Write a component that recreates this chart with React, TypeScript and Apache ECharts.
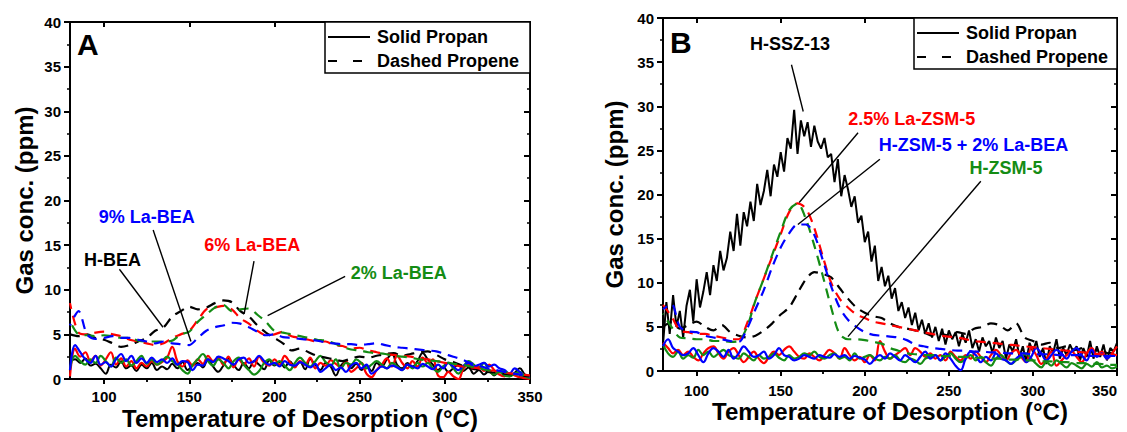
import React, { useEffect, useRef } from "react";
import * as echarts from "echarts";

const FONT = "'Liberation Sans', Arial, sans-serif";
const BLACK = "#000000";
const RED = "#ff0000";
const GREEN = "#148c14";
const BLUE = "#0000ff";

// Temperature sampling grids (°C)
function tempGrid(step: number): number[] {
  const a: number[] = [];
  for (let t = 80; t <= 350 + 1e-9; t += step) a.push(t);
  return a;
}
const T5 = tempGrid(5);
const T3 = tempGrid(3);
const T2 = tempGrid(2);

const xMajorTicks = [100, 150, 200, 250, 300, 350];
const xMinorTicks = [125, 175, 225, 275, 325];

// ---------- Panel A (BEA series) ----------
// Dashed = propene, step 5 °C
const aHBEAPropene = [
  5.0, 4.8, 5.0, 4.6, 4.4, 4.0, 3.6, 3.8, 4.2, 4.6,
  5.4, 5.8, 7.0, 7.6, 8.1, 7.8, 8.0, 8.5, 8.8, 8.6,
  7.6, 7.0, 6.0, 5.2, 4.6, 4.0, 3.2, 3.4, 3.0, 2.6,
  2.4, 2.2, 2.0, 2.3, 2.5, 2.4, 2.6, 2.8, 2.9, 2.6,
  2.8, 3.0, 3.1, 2.7, 2.2, 1.9, 1.5, 1.2, 1.0, 0.8,
  0.7, 0.6, 0.5, 0.4, 0.3,
];
const a6LaPropene = [
  8.5, 5.2, 5.0, 5.2, 5.3, 5.0, 4.8, 4.4, 4.2, 4.0,
  3.8, 4.0, 4.6, 5.0, 5.4, 6.6, 7.8, 8.0, 8.2, 7.8,
  6.8, 6.2, 5.4, 4.9, 5.0, 5.3, 4.8, 4.6, 4.4, 4.2,
  4.2, 3.8, 3.7, 3.4, 3.5, 3.2, 3.0, 2.8, 2.7, 2.6,
  2.5, 2.3, 2.2, 2.0, 1.8, 1.6, 1.4, 1.3, 1.2, 1.0,
  0.9, 0.7, 0.6, 0.5, 0.4,
];
const a2LaPropene = [
  6.5, 5.0, 4.9, 4.8, 4.9, 4.8, 4.6, 4.6, 4.3, 4.2,
  4.2, 4.2, 4.3, 5.0, 5.3, 6.4, 7.2, 8.0, 8.3, 7.6,
  7.8, 7.9, 7.2, 6.4, 5.4, 5.2, 5.0, 4.8, 4.6, 4.4,
  4.3, 4.0, 3.6, 3.3, 3.2, 3.0, 2.9, 2.8, 2.6, 2.5,
  2.4, 2.2, 2.1, 2.0, 1.9, 1.7, 1.6, 1.4, 1.2, 1.0,
  0.9, 0.8, 0.6, 0.5, 0.4,
];
const a9LaPropene = [
  6.0, 7.6, 5.0, 4.5, 4.6, 4.8, 4.6, 4.6, 4.4, 4.2,
  4.0, 4.2, 4.0, 3.9, 3.8, 4.6, 5.4, 5.8, 6.0, 6.3,
  6.2, 5.8, 5.3, 4.9, 5.0, 4.7, 4.6, 4.5, 4.4, 4.3,
  4.1, 4.0, 3.9, 3.9, 3.8, 3.9, 4.0, 3.8, 3.6, 3.5,
  3.4, 3.3, 3.2, 3.1, 2.8, 2.5, 2.2, 1.8, 1.5, 1.2,
  1.0, 0.8, 0.6, 0.5, 0.4,
];
// Solid = propane, step 3 °C
const aHBEAPropane = [
  2.0, 2.2, 1.8, 2.3, 1.5, 1.7, 1.2, 0.6, 1.6, 1.3,
  2.0, 1.2, 1.5, 0.9, 1.6, 1.2, 1.8, 1.0, 1.4, 1.1,
  1.7, 1.2, 1.9, 1.0, 1.5, 1.8, 1.3, 2.2, 1.4, 0.8,
  1.5, 2.3, 1.6, 1.0, 1.8, 1.2, 2.0, 1.6, 1.1, 2.1,
  1.5, 1.9, 1.3, 2.0, 1.4, 1.9, 1.1, 2.2, 1.6, 1.0,
  1.8, 1.4, 0.4, 1.5, 1.9, 1.2, 1.7, 1.0, 1.5, 0.9,
  1.8, 1.4, 2.2, 2.8, 1.6, 1.2, 1.8, 1.4, 2.0, 2.9,
  2.2, 1.6, 1.0, 1.4, 0.8, 1.2, 1.6, 0.9, 1.3, 0.6,
  1.0, 0.5, 0.9, 0.4, 0.8, 0.5, 0.3, 0.7, 1.2, 0.5,
  0.2,
];
const a6LaPropane = [
  0.3, 3.4, 2.5, 3.0, 2.0, 2.6, 1.5, 2.2, 3.0, 1.6,
  2.3, 1.4, 2.0, 1.2, 1.8, 1.4, 2.0, 1.6, 1.9, 2.4,
  3.6, 2.0, 1.4, 2.1, 1.5, 2.2, 1.7, 2.6, 2.0, 2.4,
  1.6, 2.5, 1.3, 2.2, 1.6, 2.3, 1.4, 2.5, 1.8, 1.5,
  2.2, 1.6, 2.6, 1.9, 1.3, 2.0, 1.6, 2.4, 1.2, 1.8,
  1.5, 2.1, 1.7, 1.3, 2.0, 0.8, 1.2, 1.8, 0.6, 0.2,
  1.0, 1.6, 2.3, 1.4, 2.6, 1.8, 1.2, 2.0, 1.4, 2.4,
  1.8, 2.2, 0.4, 0.2, 0.8, 0.3, 0.0, 1.2, 1.6, 1.1,
  1.4, 0.9, 1.6, 1.0, 0.5, 0.3, 0.6, 0.4, 0.2, 0.1,
  0.0,
];
const a2LaPropane = [
  1.2, 2.6, 2.0, 1.6, 2.2, 1.8, 2.6, 2.0, 1.4, 2.4,
  1.8, 2.2, 1.5, 2.0, 2.6, 1.7, 2.2, 1.6, 2.0, 2.5,
  2.0, 1.6, 1.0, 0.6, 1.6, 2.2, 2.8, 2.0, 1.5, 2.2,
  1.8, 1.2, 2.0, 2.4, 1.6, 1.0, 0.5, 0.9, 1.8, 2.2,
  1.6, 2.0, 1.5, 1.0, 1.8, 2.4, 1.8, 1.4, 2.0, 2.6,
  1.9, 1.5, 2.2, 1.2, 1.8, 1.6, 2.2, 1.8, 1.2, 1.6,
  2.0, 1.6, 1.2, 1.8, 1.4, 1.0, 1.6, 1.2, 1.8, 1.4,
  1.8, 1.2, 0.8, 1.4, 1.8, 1.2, 0.6, 1.4, 2.0, 1.6,
  1.2, 1.8, 0.9, 0.5, 0.8, 0.4, 0.3, 0.6, 0.8, 0.3,
  0.1,
];
const a9LaPropane = [
  1.0, 3.8, 3.0, 2.2, 1.8, 2.6, 1.6, 1.9, 1.4, 2.2,
  2.8, 2.0, 2.6, 1.8, 2.3, 1.8, 2.4, 1.9, 2.2, 1.8,
  2.3, 1.6, 2.0, 1.9, 1.0, 1.6, 1.5, 2.2, 1.9, 2.5,
  2.3, 2.0, 1.6, 2.2, 2.4, 1.8, 2.0, 2.6, 2.0, 1.6,
  1.8, 1.4, 2.0, 1.6, 1.5, 1.9, 1.6, 1.3, 1.7, 0.8,
  1.2, 1.6, 1.0, 1.3, 0.8, 1.5, 1.8, 1.2, 1.6, 0.6,
  1.0, 1.4, 1.2, 1.5, 1.3, 1.0, 1.6, 1.4, 1.2, 1.7,
  1.4, 1.1, 1.6, 1.2, 1.8, 1.4, 1.0, 1.5, 1.8, 1.4,
  1.6, 1.8, 1.4, 1.6, 1.2, 1.0, 0.6, 1.2, 0.8, 0.4,
  0.3,
];

// ---------- Panel B (ZSM-5 / SSZ-13 series) ----------
// Dashed = propene, step 5 °C
const bSSZPropene = [
  5.0, 5.5, 4.8, 5.2, 5.6, 5.0, 4.6, 5.2, 4.4, 4.0,
  3.8, 4.0, 4.6, 5.4, 6.4, 7.2, 8.8, 10.4, 11.2, 11.0,
  10.6, 9.4, 8.2, 7.2, 6.6, 6.2, 6.0, 5.4, 5.0, 4.8,
  4.6, 4.4, 4.0, 4.2, 4.0, 4.4, 4.2, 4.8, 5.0, 5.4,
  5.2, 4.6, 5.4, 3.8, 3.4, 3.0, 3.2, 2.6, 2.8, 2.4,
  2.6, 2.2, 2.4, 2.0, 2.2,
];
const bLaZSMPropene = [
  7.5, 6.2, 4.6, 4.4, 4.2, 4.2, 4.0, 3.8, 3.6, 3.6,
  5.4, 8.0, 10.5, 13.0, 15.5, 18.0, 19.0, 18.4, 16.2, 13.0,
  10.0, 8.2, 7.2, 6.4, 6.0, 5.6, 5.4, 5.2, 5.0, 4.8,
  4.6, 4.4, 4.2, 4.0, 3.9, 3.8, 3.6, 3.4, 3.3, 3.2,
  3.1, 3.0, 2.9, 2.8, 2.7, 2.6, 2.5, 2.4, 2.3, 2.2,
  2.1, 2.0, 1.9, 1.9, 1.8,
];
const bHZSMPropene = [
  6.5, 5.0, 3.8, 3.7, 3.6, 3.6, 3.4, 3.4, 3.3, 3.4,
  5.0, 8.0, 10.5, 13.2, 15.8, 18.2, 19.0, 17.2, 14.2, 10.8,
  7.2, 4.2, 3.6, 3.6, 3.5, 3.3, 3.1, 2.6, 2.3, 2.0,
  1.9, 1.8, 1.8, 1.7, 1.7, 1.6, 1.6, 1.5, 1.5, 1.4,
  1.4, 1.3, 1.3, 1.2, 1.2, 1.1, 1.1, 1.0, 1.0, 0.9,
  0.9, 0.8, 0.8, 0.7, 0.7,
];
const bMixPropene = [
  7.0, 7.6, 5.0, 4.5, 4.4, 4.0, 3.8, 3.6, 3.4, 3.3,
  4.8, 7.0, 9.2, 11.8, 14.0, 15.6, 16.6, 16.6, 15.4, 12.6,
  9.6, 7.2, 5.8, 5.0, 4.4, 4.1, 4.0, 3.9, 3.8, 3.5,
  3.0, 2.8, 2.6, 2.5, 2.4, 2.3, 2.3, 2.2, 2.2, 2.1,
  2.1, 2.0, 2.0, 2.0, 1.9, 1.9, 1.9, 1.8, 1.8, 1.8,
  1.8, 1.7, 1.7, 1.7, 1.7,
];
// Solid = propane
const bSSZPropane = [ // step 2 °C
  3.0, 7.8, 4.2, 8.6, 5.0, 6.8, 3.8, 7.4, 9.2, 5.6,
  10.4, 7.2, 9.0, 11.2, 8.6, 12.0, 10.2, 13.6, 11.4, 12.8,
  15.8, 13.6, 17.8, 14.2, 18.0, 16.4, 19.2, 17.0, 21.2, 18.8,
  20.4, 22.8, 19.8, 23.4, 22.0, 24.8, 22.6, 26.4, 25.2, 29.6,
  24.6, 28.4, 26.6, 28.2, 25.4, 27.8, 26.0, 25.2, 26.4, 24.2,
  24.6, 21.4, 24.0, 19.8, 22.2, 20.6, 18.6, 19.8, 16.8, 17.6,
  14.6, 15.8, 12.4, 14.2, 10.2, 11.8, 9.6, 10.8, 8.2, 9.4,
  6.8, 7.8, 6.0, 7.2, 5.2, 6.6, 4.6, 5.8, 4.2, 5.4,
  3.8, 5.0, 3.4, 4.8, 3.0, 4.6, 3.6, 4.4, 2.8, 4.2,
  3.2, 4.6, 2.6, 3.6, 2.2, 3.8, 2.8, 3.4, 2.0, 3.8,
  2.6, 3.4, 1.4, 3.0, 2.2, 3.6, 1.6, 2.8, 1.0, 3.2,
  2.2, 3.4, 1.6, 2.6, 0.8, 2.8, 2.0, 3.6, 1.4, 2.6,
  1.8, 3.0, 2.2, 2.8, 1.2, 2.6, 1.6, 3.4, 1.4, 2.8,
  1.6, 3.0, 1.2, 2.6, 2.2, 3.2,
];
const bLaZSMPropane = [ // step 3 °C
  3.2, 2.6, 2.0, 2.4, 1.8, 2.2, 1.6, 1.2, 2.0, 2.6,
  2.8, 2.0, 1.4, 2.2, 2.6, 1.8, 1.0, 1.6, 2.2, 1.4,
  0.9, 1.6, 2.2, 1.8, 2.4, 2.8, 2.2, 1.6, 1.4, 2.0,
  1.6, 1.2, 1.8, 2.4, 2.0, 1.4, 2.6, 1.8, 1.2, 1.6,
  1.0, 1.8, 1.2, 3.4, 2.2, 1.4, 1.8, 2.2, 2.6, 1.8,
  2.6, 2.2, 1.6, 2.0, 1.4, 1.8, 1.2, 2.2, 1.6, 1.2,
  1.8, 1.4, 2.2, 1.6, 1.0, 1.8, 2.4, 1.8, 1.2, 2.0,
  2.4, 1.6, 1.0, 2.6, 1.8, 0.8, 1.4, 2.2, 0.6, 1.2,
  1.8, 2.2, 1.6, 1.0, 2.0, 2.6, 1.8, 2.2, 1.4, 2.0,
  2.8,
];
const bHZSMPropane = [ // step 3 °C
  3.0, 2.0, 1.6, 2.2, 1.4, 1.8, 1.5, 2.4, 1.8, 2.2,
  1.6, 2.0, 2.4, 1.8, 1.6, 1.4, 2.0, 1.6, 1.2, 1.8,
  1.4, 1.6, 2.0, 1.5, 1.2, 1.8, 1.4, 1.6, 2.0, 1.8,
  2.2, 1.6, 1.4, 1.8, 2.0, 1.4, 1.6, 1.2, 2.0, 1.4,
  1.6, 1.8, 1.4, 1.2, 1.6, 1.4, 1.8, 1.2, 1.0, 1.4,
  1.2, 0.8, 1.4, 1.6, 1.8, 1.2, 1.6, 2.0, 1.4, 1.0,
  1.4, 1.8, 1.2, 1.6, 1.0, 0.6, 1.4, 1.8, 1.2, 0.8,
  1.2, 1.6, 2.0, 1.4, 0.8, 0.4, 1.0, 0.6, 1.2, 0.8,
  0.4, 0.9, 0.6, 0.3, 0.8, 0.5, 1.0, 0.4, 0.6, 0.3,
  0.5,
];
const bMixPropane = [ // step 3 °C
  2.8, 3.6, 2.6, 2.2, 1.8, 2.0, 2.6, 1.8, 1.0, 2.0,
  2.6, 2.2, 1.6, 2.4, 1.4, 2.0, 2.8, 2.2, 1.6, 1.8,
  2.2, 1.4, 1.8, 2.6, 1.8, 1.6, 1.2, 1.4, 1.8, 1.6,
  1.4, 1.8, 1.6, 1.5, 1.9, 1.6, 1.8, 1.4, 1.7, 1.5,
  1.3, 0.8, 1.4, 1.8, 1.4, 2.0, 1.6, 1.2, 1.8, 1.4,
  1.0, 1.6, 2.2, 1.4, 1.8, 1.2, 2.0, 1.4, 0.6, 0.1,
  1.4, 2.2, 1.8, 1.0, 1.6, 1.2, 2.0, 1.4, 1.2, 0.8,
  1.4, 1.8, 1.0, 1.6, 2.6, 2.0, 1.2, 1.8, 2.4, 2.0,
  1.4, 2.2, 2.6, 1.8, 1.2, 2.4, 1.6, 2.0, 1.4, 1.8,
  1.8,
];

// Annotation labels and arrow endpoints (data units: [°C, ppm])
const annotationsA = [
  { text: "H-BEA", color: BLACK, at: [105, 13.3], from: [109, 12.3], to: [134.6, 5.8] },
  { text: "9% La-BEA", color: BLUE, at: [125, 18.2], from: [128.8, 16.7], to: [151, 4.2] },
  { text: "6% La-BEA", color: RED, at: [187, 15.0], from: [188, 13.2], to: [182.2, 7.3] },
  { text: "2% La-BEA", color: GREEN, at: [273, 11.9], from: [241.5, 11.5], to: [196, 7.1] },
];
const annotationsB = [
  { text: "H-SSZ-13", color: BLACK, at: [155.6, 37.0], from: [156.4, 34.7], to: [163.4, 29.4] },
  { text: "2.5% La-ZSM-5", color: RED, at: [228, 28.5], from: [196, 27.0], to: [161, 19.1] },
  { text: "H-ZSM-5 + 2% La-BEA", color: BLUE, at: [264.7, 25.6], from: [209, 24.0], to: [160.2, 16.6] },
  { text: "H-ZSM-5", color: GREEN, at: [284, 23.0], from: [269, 21.5], to: [190, 3.9] },
];

const legendSolid = "Solid Propan";
const legendDashed = "Dashed Propene";
const xTitle = "Temperature of Desorption (°C)";
const yTitle = "Gas conc. (ppm)";

function zip(xs: number[], ys: number[]): number[][] {
  const n = Math.min(xs.length, ys.length);
  const out: number[][] = [];
  for (let i = 0; i < n; i++) out.push([xs[i], ys[i]]);
  return out;
}

const GRIDS = [
  { left: 70, top: 22, width: 460, height: 357, xNameGap: 27, yNameGap: 34, xLabelMargin: 10, alignLast: "center" },
  { left: 663, top: 18, width: 454, height: 353, xNameGap: 28, yNameGap: 37, xLabelMargin: 12, alignLast: "right" },
];

function buildAxes() {
  const xAxis: any[] = [];
  const yAxis: any[] = [];
  const axisLine = { show: true, onZero: false, lineStyle: { color: "#000", width: 2 } };
  const labelStyle = { color: "#000", fontSize: 15, fontWeight: "bold", fontFamily: FONT };
  GRIDS.forEach((g, gi) => {
    xAxis.push({
      gridIndex: gi, type: "value", position: "bottom", min: 80, max: 350,
      axisLine, splitLine: { show: false },
      axisTick: { show: true, inside: false, length: 5, customValues: xMajorTicks, lineStyle: { color: "#000", width: 2 } },
      axisLabel: { show: true, customValues: xMajorTicks, margin: g.xLabelMargin, hideOverlap: false, alignMaxLabel: g.alignLast, ...labelStyle },
      name: xTitle, nameLocation: "middle", nameGap: g.xNameGap, nameMoveOverlap: false,
      nameTextStyle: { color: "#000", fontSize: 24, fontWeight: "bold", fontFamily: FONT },
    });
    xAxis.push({
      gridIndex: gi, type: "value", position: "bottom", min: 80, max: 350,
      axisLine: { show: false }, splitLine: { show: false }, axisLabel: { show: false },
      axisTick: { show: true, inside: false, length: 3, customValues: xMinorTicks, lineStyle: { color: "#000", width: 1.5 } },
    });
    xAxis.push({
      gridIndex: gi, type: "value", position: "top", min: 80, max: 350,
      axisLine, splitLine: { show: false }, axisLabel: { show: false },
      axisTick: { show: true, inside: true, length: 5, customValues: xMajorTicks, lineStyle: { color: "#000", width: 2 } },
    });
    xAxis.push({
      gridIndex: gi, type: "value", position: "top", min: 80, max: 350,
      axisLine: { show: false }, splitLine: { show: false }, axisLabel: { show: false },
      axisTick: { show: true, inside: true, length: 3, customValues: xMinorTicks, lineStyle: { color: "#000", width: 1.5 } },
    });
    yAxis.push({
      gridIndex: gi, type: "value", position: "left", min: 0, max: 40, interval: 5,
      axisLine, splitLine: { show: false }, minorSplitLine: { show: false },
      axisTick: { show: true, inside: false, length: 6, lineStyle: { color: "#000", width: 2 } },
      minorTick: { show: true, splitNumber: 2, length: 3, lineStyle: { color: "#000", width: 1.5 } },
      axisLabel: { show: true, margin: 9, ...labelStyle },
      name: yTitle, nameLocation: "middle", nameRotate: 90, nameGap: g.yNameGap,
      nameTextStyle: { color: "#000", fontSize: 24, fontWeight: "bold", fontFamily: FONT },
    });
    yAxis.push({
      gridIndex: gi, type: "value", position: "right", min: 0, max: 40, interval: 5,
      axisLine, splitLine: { show: false }, minorSplitLine: { show: false },
      axisTick: { show: true, inside: true, length: 6, lineStyle: { color: "#000", width: 2 } },
      minorTick: { show: true, splitNumber: 2, length: 3, lineStyle: { color: "#000", width: 1.5 } },
      axisLabel: { show: false },
    });
  });
  return { xAxis, yAxis };
}

function lineSeries(name: string, gi: number, xs: number[], ys: number[], color: string, dashed: boolean, width: number, smooth: number | boolean, dashOffset = 0) {
  return {
    type: "line",
    name,
    xAxisIndex: gi * 4,
    yAxisIndex: gi * 2,
    data: zip(xs, ys),
    showSymbol: false,
    symbol: "none",
    smooth,
    silent: true,
    lineStyle: dashed
      ? { color, width, type: [10, 7], dashOffset }
      : { color, width, type: "solid" },
    itemStyle: { color },
    emphasis: { disabled: true },
  };
}

function arrowSeries(gi: number, notes: any[]) {
  return {
    type: "line",
    name: "arrows" + gi,
    xAxisIndex: gi * 4,
    yAxisIndex: gi * 2,
    data: [],
    silent: true,
    z: 5,
    markLine: {
      silent: true,
      symbol: ["none", "arrow"],
      symbolSize: [0, 10],
      label: { show: false },
      emphasis: { disabled: true },
      lineStyle: { color: "#000", width: 1.4, type: "solid" },
      data: notes.map((n) => [{ coord: n.from }, { coord: n.to }]),
    },
  };
}

function toPx(gi: number, p: number[]) {
  const g = GRIDS[gi];
  return [g.left + ((p[0] - 80) / 270) * g.width, g.top + g.height - (p[1] / 40) * g.height];
}

function buildGraphics() {
  const els: any[] = [];
  const textStyle = (text: string, color: string, size: number, align = "center") => ({
    text, fill: color, fontSize: size, fontWeight: "bold", fontFamily: FONT, align, verticalAlign: "middle",
  });
  [annotationsA, annotationsB].forEach((notes, gi) => {
    notes.forEach((n) => {
      const [x, y] = toPx(gi, n.at);
      els.push({ type: "text", x, y, z: 100, silent: true, style: textStyle(n.text, n.color, 18) });
    });
  });
  // Legend boxes
  const legends = [
    { x: 325, y: 22, w: 205, h: 51 },
    { x: 914, y: 18, w: 203, h: 51 },
  ];
  legends.forEach((L) => {
    els.push({ type: "rect", z: 100, silent: true, shape: { x: L.x, y: L.y, width: L.w, height: L.h }, style: { fill: "#fff", stroke: "#000", lineWidth: 1.5 } });
    const y1 = L.y + 15, y2 = L.y + 39;
    els.push({ type: "line", z: 101, silent: true, shape: { x1: L.x + 3, y1, x2: L.x + 45, y2: y1 }, style: { stroke: "#000", lineWidth: 2 } });
    els.push({ type: "line", z: 101, silent: true, shape: { x1: L.x + 3, y1: y2, x2: L.x + 37, y2: y2 }, style: { stroke: "#000", lineWidth: 2, lineDash: [9, 16] } });
    els.push({ type: "text", z: 101, silent: true, x: L.x + 52, y: y1, style: textStyle(legendSolid, "#000", 18, "left") });
    els.push({ type: "text", z: 101, silent: true, x: L.x + 52, y: y2, style: textStyle(legendDashed, "#000", 18, "left") });
  });
  // Panel letters
  els.push({ type: "text", z: 100, silent: true, x: 77, y: 44, style: textStyle("A", "#000", 30, "left") });
  els.push({ type: "text", z: 100, silent: true, x: 670, y: 42, style: textStyle("B", "#000", 30, "left") });
  return els;
}

function buildOption() {
  const { xAxis, yAxis } = buildAxes();
  const series: any[] = [
    // Panel A
    lineSeries("H-BEA propane", 0, T3, aHBEAPropane, BLACK, false, 2, 0.4),
    lineSeries("6% La-BEA propane", 0, T3, a6LaPropane, RED, false, 2.2, 0.4),
    lineSeries("2% La-BEA propane", 0, T3, a2LaPropane, GREEN, false, 2.2, 0.4),
    lineSeries("9% La-BEA propane", 0, T3, a9LaPropane, BLUE, false, 2.2, 0.4),
    lineSeries("H-BEA propene", 0, T5, aHBEAPropene, BLACK, true, 2.2, 0.3, 0),
    lineSeries("6% La-BEA propene", 0, T5, a6LaPropene, RED, true, 2.2, 0.3, 4),
    lineSeries("2% La-BEA propene", 0, T5, a2LaPropene, GREEN, true, 2.2, 0.3, 12),
    lineSeries("9% La-BEA propene", 0, T5, a9LaPropene, BLUE, true, 2.2, 0.3, 8),
    arrowSeries(0, annotationsA),
    // Panel B
    lineSeries("H-SSZ-13 propane", 1, T2, bSSZPropane, BLACK, false, 2, false),
    lineSeries("H-SSZ-13 propene", 1, T5, bSSZPropene, BLACK, true, 2.2, 0.3, 0),
    lineSeries("2.5% La-ZSM-5 propane", 1, T3, bLaZSMPropane, RED, false, 2.2, 0.4),
    lineSeries("H-ZSM-5 propane", 1, T3, bHZSMPropane, GREEN, false, 2.2, 0.4),
    lineSeries("H-ZSM-5 + 2% La-BEA propane", 1, T3, bMixPropane, BLUE, false, 2.2, 0.4),
    lineSeries("2.5% La-ZSM-5 propene", 1, T5, bLaZSMPropene, RED, true, 2.2, 0.3, 0),
    lineSeries("H-ZSM-5 propene", 1, T5, bHZSMPropene, GREEN, true, 2.2, 0.3, 9),
    lineSeries("H-ZSM-5 + 2% La-BEA propene", 1, T5, bMixPropene, BLUE, true, 2.2, 0.3, 5),
    arrowSeries(1, annotationsB),
  ];
  return {
    animation: false,
    backgroundColor: "#fff",
    textStyle: { fontFamily: FONT },
    grid: GRIDS.map((g) => ({
      left: g.left, top: g.top, width: g.width, height: g.height,
      containLabel: false, outerBoundsMode: "none",
    })),
    xAxis,
    yAxis,
    series,
    graphic: { elements: buildGraphics() },
  };
}

export default function App() {
  const ref = useRef<HTMLDivElement>(null);
  useEffect(() => {
    if (!ref.current) return;
    const chart = echarts.init(ref.current, null, { renderer: "svg" });
    chart.setOption(buildOption() as any);
    return () => chart.dispose();
  }, []);
  return (
    <div
      ref={ref}
      style={{ position: "absolute", left: 0, top: 0, width: 1127, height: 432, background: "#fff" }}
    />
  );
}
